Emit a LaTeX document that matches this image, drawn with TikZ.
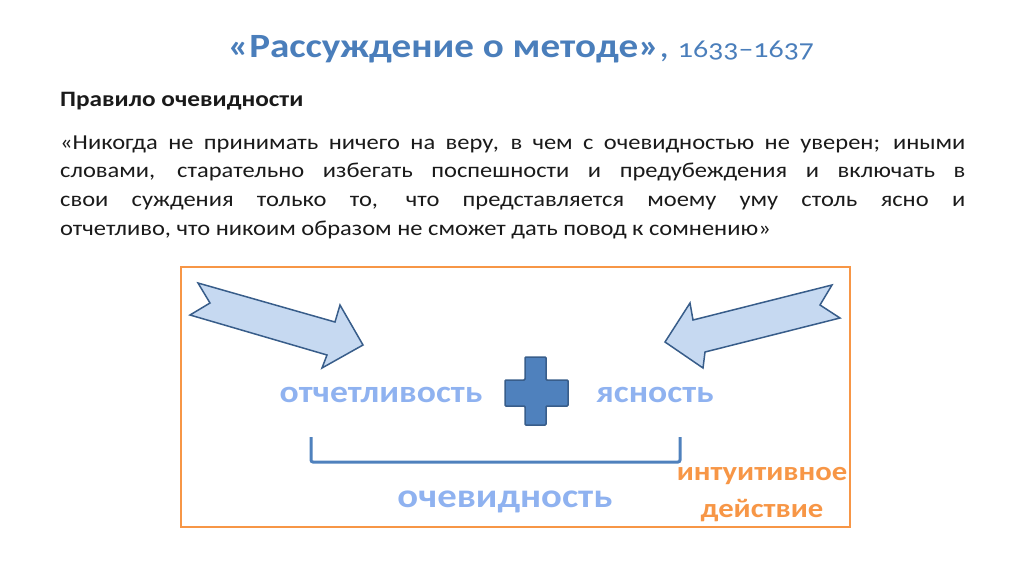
\documentclass[tikz,border=0pt]{standalone}
\usepackage{fontspec}
\usepackage{graphicx}
\setmainfont{Carlito}
\usetikzlibrary{positioning}

\definecolor{titleblue}{HTML}{4A7EBB}
\definecolor{softblue}{HTML}{8FB2F0}
\definecolor{arrowfill}{HTML}{C6D9F1}
\definecolor{arrowline}{HTML}{385D8A}
\definecolor{plusfill}{HTML}{4F81BD}
\definecolor{boxorange}{HTML}{F79646}
\definecolor{bodytext}{HTML}{1A1A1A}

% slide text is a little wider than the font
\newcommand{\wide}[1]{\scalebox{1.15}[1]{#1}}

\tikzset{
  blockarrow/.style={fill=arrowfill, draw=arrowline, line width=1.5pt, line join=miter},
  plusshape/.style={fill=plusfill, draw=arrowline, line width=1.5pt, rounded corners=1pt},
  conceptlabel/.style={anchor=base, inner sep=0pt, text=softblue, font=\fontsize{31}{33}\selectfont\bfseries},
}

\begin{document}
\begin{tikzpicture}[x=1pt,y=-1pt]
	\useasboundingbox (0,0) rectangle (1024,576);
	\node at (228,57) [anchor=base west, inner sep=0pt, text=titleblue, font=\fontsize{34}{36}\selectfont] (title) {\wide{\textbf{«Рассуждение о методе»}, {\fontsize{26}{30}\selectfont\addfontfeatures{Numbers=OldStyle}1633–1637}}};
	\node at (60,106) [anchor=base west, inner sep=0pt, text=bodytext, font=\fontsize{22}{24}\selectfont\bfseries] (rule) {\wide{Правило очевидности}};
	\node at (60,149) [anchor=base west, inner sep=0pt, text=bodytext, font=\fontsize{21.3}{28.8}\selectfont] (quote) {\wide{\parbox[t]{787pt}{\fontsize{21.3}{28.8}\selectfont «Никогда не принимать ничего на веру, в чем с очевидностью не уверен; иными\linebreak словами, старательно избегать поспешности и предубеждения и включать в\linebreak свои суждения только то, что представляется моему уму столь ясно и\linebreak отчетливо, что никоим образом не сможет дать повод к сомнению»}}};
	\draw[boxorange, line width=2pt] (181,267) rectangle (850,527);
	% arrows pointing at the two labels
	\draw[blockarrow] (198,283) -- (335,322) -- (340,305) -- (363,345) -- (322,368) -- (327,355) -- (190,315) -- (210,303) -- cycle;
	\draw[blockarrow] (832,285) -- (693,320) -- (690,303) -- (665,342) -- (703,368) -- (705,352) -- (840,318) -- (820,305) -- cycle;
	\draw[plusshape] (525,357) -- (546,357) -- (546,380) -- (568,380) -- (568,406) -- (546,406) -- (546,425) -- (525,425) -- (525,406) -- (505,406) -- (505,380) -- (525,380) -- cycle;
	\node at (381,402) [conceptlabel] (distinct) {\wide{отчетливость}};
	\node at (655,402) [conceptlabel] (clear) {\wide{ясность}};
	\draw[plusfill, line width=3pt, rounded corners=2pt] (311,437) -- (311,462) -- (680,462) -- (680,437);
	\node at (505,507) [anchor=base, inner sep=0pt, text=softblue, font=\fontsize{33.7}{35}\selectfont\bfseries] (evident) {\wide{очевидность}};
	\node at (762,517) [anchor=base, inner sep=0pt, text=boxorange, align=center, font=\fontsize{26.7}{37}\selectfont\bfseries] (intuit) {\wide{интуитивное}\\\wide{действие}};
\end{tikzpicture}
\end{document}
